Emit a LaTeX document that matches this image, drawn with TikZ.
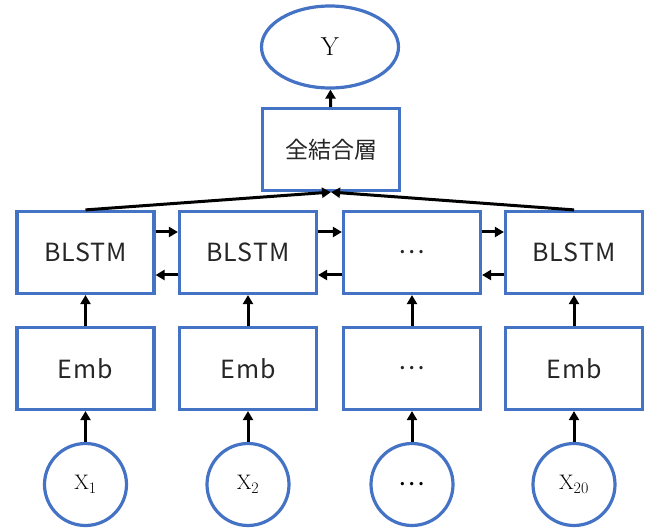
\documentclass[tikz,border=0pt]{standalone}
\usepackage{fontspec}
\newfontfamily\jp[LetterSpace=4]{Noto Sans CJK JP}
\newfontfamily\jpcjk{Noto Sans CJK JP}
\usetikzlibrary{arrows.meta,shapes.geometric}
\definecolor{obl}{HTML}{4472C4}
\definecolor{txt}{HTML}{262626}
\newcommand{\xsub}[1]{\mathrm{X}_{\mbox{\fontsize{16}{18}\selectfont #1}}}
\tikzset{
  box/.style={draw=obl,line width=3.2pt,minimum width=137pt,minimum height=82pt,inner sep=0pt,text=txt,font=\jp\fontsize{25}{30}\selectfont},
  ell/.style={ellipse,draw=obl,line width=3.2pt,minimum width=137pt,minimum height=82pt,inner sep=0pt,font=\fontsize{26}{30}\selectfont},
  circ/.style={circle,draw=obl,line width=3.2pt,minimum size=82pt,inner sep=0pt,font=\fontsize{21}{25}\selectfont},
  arr/.style={line width=3pt,-{Triangle[length=9pt,width=10pt]}}
}
\begin{document}
\begin{tikzpicture}[x=1pt,y=-1pt]
\useasboundingbox (0,0) rectangle (648,529);
% output
\node[ell] (y) at (330,47) {Y};
\node[box,font=\jpcjk\fontsize{23}{28}\selectfont] (fc) at (331,149.5) {全結合層};
% recurrent layer
\node[box] (b1) at (85.5,252.5) {BLSTM};
\node[box] (b2) at (248,252.5) {BLSTM};
\node[box,font=\jpcjk\fontsize{25}{30}\selectfont] (b3) at (412,252.5) {…};
\node[box] (b4) at (574,252.5) {BLSTM};
% embeddings
\node[box] (e1) at (85.5,368.5) {Emb};
\node[box] (e2) at (248,368.5) {Emb};
\node[box,font=\jpcjk\fontsize{25}{30}\selectfont] (e3) at (412,368.5) {…};
\node[box] (e4) at (574,368.5) {Emb};
% inputs
\node[circ] (x1) at (85.5,484.5) {$\xsub{1}$};
\node[circ] (x2) at (248,484.5) {$\xsub{2}$};
\node[circ,font=\jpcjk\fontsize{25}{30}\selectfont] (x3) at (412,484.5) {…};
\node[circ] (x4) at (574,484.5) {$\xsub{20}$};
% vertical flow
\foreach \i in {1,2,3,4}{
  \draw[arr] (x\i) -- (e\i);
  \draw[arr] (e\i) -- (b\i);
}
\draw[arr] (fc) -- (y);
\draw[arr] (b1.north) -- (fc.south);
\draw[arr] (b4.north) -- (fc.south);
% bidirectional links
\foreach \a/\b in {1/2,2/3,3/4}{
  \draw[arr] ([yshift=20.5pt]b\a.east) -- ([yshift=20.5pt]b\b.west);
  \draw[arr] ([yshift=-22.5pt]b\b.west) -- ([yshift=-22.5pt]b\a.east);
}
\end{tikzpicture}
\end{document}
